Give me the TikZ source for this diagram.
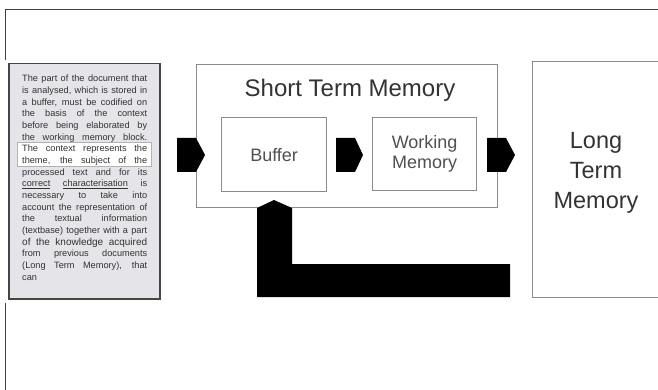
\documentclass[tikz,border=0pt]{standalone}
\usepackage{fontspec}
\setmainfont{Liberation Sans}
\definecolor{docfill}{HTML}{E4E4E9}
\definecolor{boxline}{HTML}{8C8C8C}
\definecolor{txtdark}{HTML}{333333}
\definecolor{txtmid}{HTML}{505050}
\newcommand{\jl}[1]{\makebox[125pt][s]{#1}\\}
\begin{document}
\begin{tikzpicture}[x=1pt,y=-1pt,
  box/.style={draw=boxline, line width=1.2pt, fill=white, inner sep=0pt, anchor=north west},
  docbox/.style={draw=gray!55!black, line width=1.5pt, fill=docfill, inner sep=0pt, anchor=north west},
  blockarrow/.style={fill=black},
  frameline/.style={draw=gray!50!black, line width=0.9pt},
  bigtext/.style={font=\fontsize{24}{30}\selectfont, text=txtdark, align=center},
  midtext/.style={font=\fontsize{18}{20}\selectfont, text=txtmid, align=center}]
\useasboundingbox (0,0) rectangle (658,390);
% frame
\draw[frameline] (5,60) -- (5,9) -- (658,9);
\draw[frameline] (5,303) -- (5,390);
% document box
\node[docbox, minimum width=151pt, minimum height=235pt] (doc) at (8,63) {};
\node[draw=gray!60, line width=0.8pt, fill=white, inner sep=0pt, anchor=north west,
      minimum width=134pt, minimum height=24pt] (hl) at (17,142) {};
\node[anchor=base west, inner sep=0pt, text=txtdark, font=\fontsize{9.2}{11.65}\selectfont] (doctext) at (22,82)
 {\parbox[t]{125pt}{\baselineskip=11.65pt\lineskiplimit=-20pt
 \jl{The part of the document that}
 \jl{is analysed, which is stored in}
 \jl{a buffer, must be codified on}
 \jl{the basis of the context}
 \jl{before being elaborated by}
 \jl{the working memory block.}
 \jl{The context represents the}
 \jl{theme, the subject of the}
 \jl{processed text and for its}
 \jl{\underline{correct} \underline{characterisation} is}
 \jl{necessary to take into}
 \jl{account the representation of}
 \jl{the textual information}
 \jl{(textbase) together with a part}
 \jl{{\fontsize{10}{11.65}\selectfont of the knowledge acquired}}
 \jl{from previous documents}
 \jl{(Long Term Memory), that}
 can}};
% short term memory
\node[box, minimum width=301pt, minimum height=143pt] (stm) at (196,64) {};
\node[bigtext] (stmtitle) at (350,90) {Short Term Memory};
\node[box, minimum width=105pt, minimum height=74pt] (buf) at (221,117) {};
\node[midtext] (buftext) at (buf.center) {Buffer};
\node[box, minimum width=104pt, minimum height=73pt] (wm) at (372,117) {};
\node[midtext] (wmtext) at (wm.center) {Working\\Memory};
% long term memory
\node[box, minimum width=135pt, minimum height=236pt] (ltm) at (532,61) {};
\node[bigtext, font=\fontsize{23.5}{30}\selectfont] (ltmtext) at (596,173) {Long\\Term\\Memory};
% block arrows
\fill[blockarrow] (177,138) -- (196,138) -- (205,155) -- (196,172) -- (177,172) -- cycle;
\fill[blockarrow] (336,138) -- (355,138) -- (363,155) -- (355,172) -- (336,172) -- cycle;
\fill[blockarrow] (487,138) -- (506,138) -- (515,155) -- (506,172) -- (487,172) -- cycle;
% feedback arrow
\fill[blockarrow] (510,264) -- (292,264) -- (292,208) -- (274,200) -- (257,208) -- (257,297) -- (510,297) -- cycle;
\end{tikzpicture}
\end{document}
